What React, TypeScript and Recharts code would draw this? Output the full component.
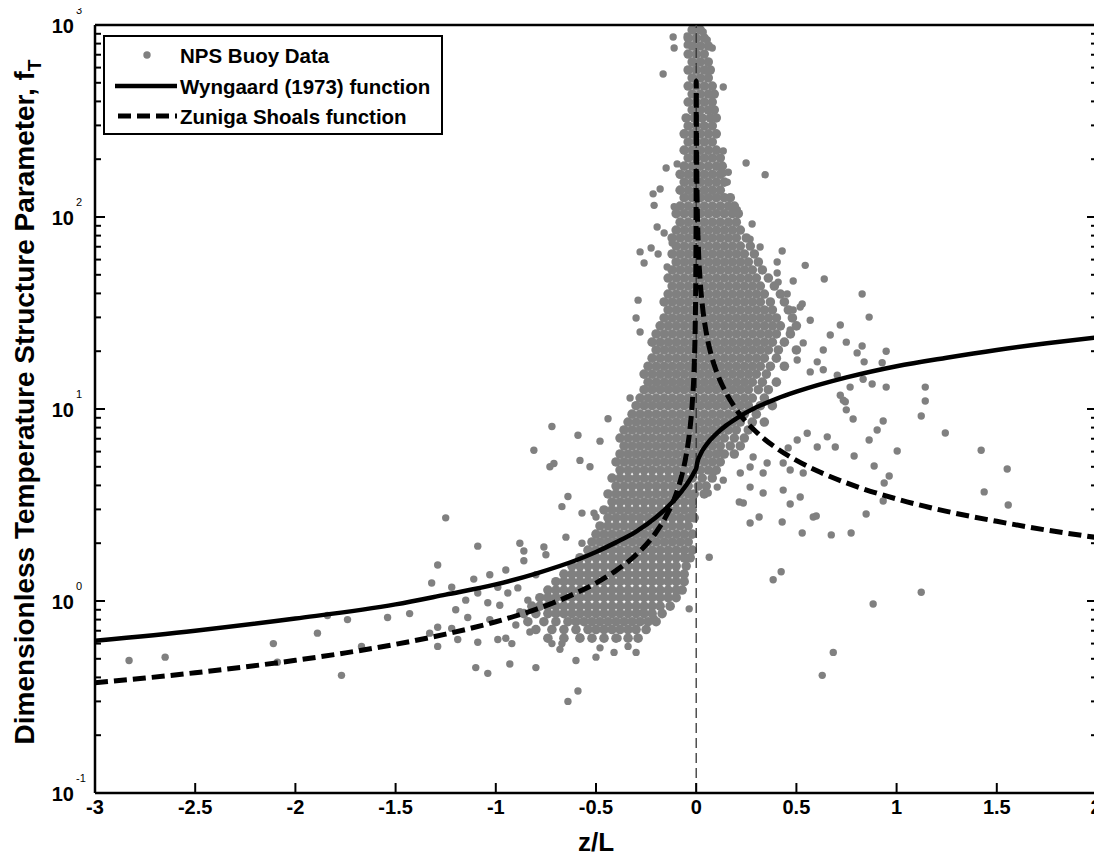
import { ComposedChart, Scatter, Line, XAxis, YAxis, ReferenceLine, Legend } from "recharts";

const WIDTH = 1094;
const HEIGHT = 852;
const SHIFT_UP = 4;
const FONT = '"Liberation Sans", Arial, Helvetica, sans-serif';
const GREY = "#808080";
const DOT_RADIUS = 3.7;
const CORE_DOT_RADIUS = 4.8;

const X_TICKS = [-3, -2.5, -2, -1.5, -1, -0.5, 0, 0.5, 1, 1.5, 2];
const Y_MAJOR = [0.1, 1, 10, 100, 1000];
const Y_EXPONENTS = ["-1", "0", "1", "2", "3"];
const Y_MINOR = [
  0.2, 0.3, 0.4, 0.5, 0.6, 0.7, 0.8, 0.9, 2, 3, 4, 5, 6, 7, 8, 9, 20, 30, 40, 50, 60, 70, 80, 90,
  200, 300, 400, 500, 600, 700, 800, 900,
];
const Y_TICKS = [...Y_MAJOR, ...Y_MINOR].sort((a, b) => a - b);

// Wyngaard (1973) curve
const WYNGAARD_Z = [
  -3, -2.5, -2, -1.5, -1.25, -1, -0.8, -0.6, -0.5, -0.4, -0.3, -0.2, -0.15, -0.1, -0.05, -0.02,
  -0.005, 0, 0.005, 0.02, 0.05, 0.1, 0.15, 0.2, 0.3, 0.4, 0.5, 0.75, 1, 1.25, 1.5, 1.75, 2,
];
const WYNGAARD_F = [
  0.62, 0.7, 0.81, 0.96, 1.08, 1.22, 1.39, 1.63, 1.8, 2.02, 2.3, 2.73, 3.04, 3.44, 4.01, 4.49,
  4.79, 4.9, 5.24, 5.77, 6.5, 7.43, 8.22, 8.92, 10.2, 11.3, 12.3, 14.6, 16.7, 18.5, 20.3, 22.0, 23.6,
];

// Zuniga Shoals curve
const ZUNIGA_Z = [
  -3, -2.75, -2.5, -2.25, -2, -1.75, -1.5, -1.25, -1, -0.8, -0.6, -0.5, -0.4, -0.3, -0.2, -0.15,
  -0.1, -0.07, -0.05, -0.03, -0.02, -0.01, -0.005, -0.002, -0.001, -0.0005, -0.0002, -0.0001,
  -0.00006, 0.0006, 0.001, 0.002, 0.005, 0.01, 0.02, 0.03, 0.05, 0.075, 0.1, 0.15, 0.2, 0.3, 0.4,
  0.5, 0.6, 0.75, 1, 1.25, 1.5, 1.75, 2,
];
const ZUNIGA_F = [
  0.375, 0.397, 0.423, 0.454, 0.491, 0.537, 0.595, 0.672, 0.78, 0.905, 1.1, 1.24, 1.44, 1.74, 2.28,
  2.77, 3.62, 4.59, 5.75, 8.08, 10.6, 16.8, 26.7, 49.1, 78, 124, 228, 362, 509, 478, 340, 214, 116,
  73.3, 46.1, 35.2, 25.1, 19.1, 15.8, 12.1, 9.94, 7.59, 6.26, 5.4, 4.78, 4.12, 3.4, 2.93, 2.6, 2.34,
  2.14,
];

// dense body of the buoy cloud, one row of z/L positions per f_T level
const BUOY_ROWS: [number, number[]][] = [
  [942, [-0.02, 0.02]],
  [855, [-0.04, 0, 0.04]],
  [778, [-0.02, 0.02, 0.06]],
  [706, [-0.04, 0, 0.04]],
  [642, [-0.02, 0.02, 0.06]],
  [583, [-0.04, 0, 0.04, 0.07]],
  [530, [-0.02, 0.02, 0.06]],
  [481, [-0.04, 0, 0.04, 0.08]],
  [437, [-0.02, 0.02, 0.06, 0.09]],
  [397, [-0.04, 0, 0.04, 0.08]],
  [361, [-0.02, 0.02, 0.06, 0.09]],
  [328, [-0.05, -0.01, 0.03, 0.07, 0.1]],
  [298, [-0.04, 0, 0.04, 0.08]],
  [271, [-0.06, -0.02, 0.02, 0.06, 0.1]],
  [246, [-0.04, 0, 0.04, 0.08]],
  [223, [-0.06, -0.02, 0.02, 0.06, 0.1]],
  [203, [-0.04, 0, 0.04, 0.08, 0.12]],
  [184, [-0.06, -0.02, 0.02, 0.06, 0.1, 0.13]],
  [167, [-0.08, -0.04, 0, 0.04, 0.08, 0.12]],
  [152, [-0.06, -0.02, 0.02, 0.06, 0.1, 0.14]],
  [138, [-0.08, -0.04, 0, 0.04, 0.08, 0.12]],
  [126, [-0.06, -0.02, 0.02, 0.06, 0.1, 0.14, 0.17]],
  [114, [-0.08, -0.04, 0, 0.04, 0.08, 0.12, 0.16, 0.19]],
  [104, [-0.1, -0.06, -0.02, 0.02, 0.06, 0.1, 0.14, 0.18, 0.21]],
  [94, [-0.08, -0.04, 0, 0.04, 0.08, 0.12, 0.16, 0.2]],
  [85.5, [-0.1, -0.06, -0.02, 0.02, 0.06, 0.1, 0.14, 0.18, 0.22]],
  [77.8, [-0.12, -0.08, -0.04, 0, 0.04, 0.08, 0.12, 0.16, 0.2, 0.25]],
  [70.6, [-0.1, -0.06, -0.02, 0.02, 0.06, 0.1, 0.14, 0.18, 0.22, 0.27]],
  [64.2, [-0.12, -0.08, -0.04, 0, 0.04, 0.08, 0.12, 0.16, 0.2, 0.24, 0.29]],
  [58.3, [-0.1, -0.06, -0.02, 0.02, 0.06, 0.1, 0.14, 0.18, 0.22, 0.26, 0.31]],
  [53.0, [-0.12, -0.08, -0.04, 0, 0.04, 0.08, 0.12, 0.16, 0.2, 0.24, 0.28, 0.33]],
  [48.1, [-0.14, -0.1, -0.06, -0.02, 0.02, 0.06, 0.1, 0.14, 0.18, 0.22, 0.26, 0.3, 0.36]],
  [43.7, [-0.12, -0.08, -0.04, 0, 0.04, 0.08, 0.12, 0.16, 0.2, 0.24, 0.28, 0.32, 0.39]],
  [39.7, [-0.14, -0.1, -0.06, -0.02, 0.02, 0.06, 0.1, 0.14, 0.18, 0.22, 0.26, 0.3, 0.34, 0.42]],
  [36.1, [-0.16, -0.12, -0.08, -0.04, 0, 0.04, 0.08, 0.12, 0.16, 0.2, 0.24, 0.28, 0.32, 0.37, 0.44]],
  [32.8, [-0.14, -0.1, -0.06, -0.02, 0.02, 0.06, 0.1, 0.14, 0.18, 0.22, 0.26, 0.3, 0.34, 0.38, 0.46]],
  [29.8, [-0.16, -0.12, -0.08, -0.04, 0, 0.04, 0.08, 0.12, 0.16, 0.2, 0.24, 0.28, 0.32, 0.36, 0.4, 0.48]],
  [27.1, [-0.18, -0.14, -0.1, -0.06, -0.02, 0.02, 0.06, 0.1, 0.14, 0.18, 0.22, 0.26, 0.3, 0.34, 0.38, 0.42, 0.5]],
  [24.6, [-0.2, -0.16, -0.12, -0.08, -0.04, 0, 0.04, 0.08, 0.12, 0.16, 0.2, 0.24, 0.28, 0.32, 0.36, 0.4, 0.47]],
  [22.3, [-0.22, -0.18, -0.14, -0.1, -0.06, -0.02, 0.02, 0.06, 0.1, 0.14, 0.18, 0.22, 0.26, 0.3, 0.34, 0.38, 0.44]],
  [20.3, [-0.2, -0.16, -0.12, -0.08, -0.04, 0, 0.04, 0.08, 0.12, 0.16, 0.2, 0.24, 0.28, 0.32, 0.36, 0.41, 0.5]],
  [18.4, [-0.22, -0.18, -0.14, -0.1, -0.06, -0.02, 0.02, 0.06, 0.1, 0.14, 0.18, 0.22, 0.26, 0.3, 0.34, 0.4]],
  [16.7, [-0.24, -0.2, -0.16, -0.12, -0.08, -0.04, 0, 0.04, 0.08, 0.12, 0.16, 0.2, 0.24, 0.28, 0.32, 0.37, 0.44]],
  [15.2, [-0.26, -0.22, -0.18, -0.14, -0.1, -0.06, -0.02, 0.02, 0.06, 0.1, 0.14, 0.18, 0.22, 0.26, 0.3, 0.35]],
  [13.8, [-0.24, -0.2, -0.16, -0.12, -0.08, -0.04, 0, 0.04, 0.08, 0.12, 0.16, 0.2, 0.24, 0.28, 0.33, 0.4]],
  [12.6, [-0.26, -0.22, -0.18, -0.14, -0.1, -0.06, -0.02, 0.02, 0.06, 0.1, 0.14, 0.18, 0.22, 0.26, 0.31, 0.36]],
  [11.4, [-0.28, -0.24, -0.2, -0.16, -0.12, -0.08, -0.04, 0, 0.04, 0.08, 0.12, 0.16, 0.2, 0.24, 0.28, 0.34]],
  [10.4, [-0.3, -0.26, -0.22, -0.18, -0.14, -0.1, -0.06, -0.02, 0.02, 0.06, 0.1, 0.14, 0.18, 0.22, 0.26, 0.32, 0.38]],
  [9.4, [-0.32, -0.28, -0.24, -0.2, -0.16, -0.12, -0.08, -0.04, 0, 0.04, 0.08, 0.12, 0.16, 0.2, 0.24, 0.3]],
  [8.55, [-0.34, -0.3, -0.26, -0.22, -0.18, -0.14, -0.1, -0.06, -0.02, 0.02, 0.06, 0.1, 0.14, 0.18, 0.22, 0.28, 0.34]],
  [7.78, [-0.36, -0.32, -0.28, -0.24, -0.2, -0.16, -0.12, -0.08, -0.04, 0, 0.04, 0.08, 0.12, 0.16, 0.2, 0.26]],
  [7.06, [-0.38, -0.34, -0.3, -0.26, -0.22, -0.18, -0.14, -0.1, -0.06, -0.02, 0.02, 0.06, 0.1, 0.14, 0.19, 0.24]],
  [6.42, [-0.36, -0.32, -0.28, -0.24, -0.2, -0.16, -0.12, -0.08, -0.04, 0, 0.04, 0.08, 0.12, 0.17, 0.22]],
  [5.83, [-0.38, -0.34, -0.3, -0.26, -0.22, -0.18, -0.14, -0.1, -0.06, -0.02, 0.02, 0.06, 0.1, 0.14, 0.19]],
  [5.3, [-0.4, -0.36, -0.32, -0.28, -0.24, -0.2, -0.16, -0.12, -0.08, -0.04, 0, 0.04, 0.08, 0.12]],
  [4.81, [-0.38, -0.34, -0.3, -0.26, -0.22, -0.18, -0.14, -0.1, -0.06, -0.02, 0.02, 0.06, 0.1]],
  [4.37, [-0.42, -0.38, -0.34, -0.3, -0.26, -0.22, -0.18, -0.14, -0.1, -0.06, -0.02, 0.03, 0.08]],
  [3.97, [-0.4, -0.36, -0.32, -0.28, -0.24, -0.2, -0.16, -0.12, -0.08, -0.04, 0.01, 0.05]],
  [3.61, [-0.44, -0.4, -0.36, -0.32, -0.28, -0.24, -0.2, -0.16, -0.12, -0.08, -0.04, -0.01, 0.04]],
  [3.28, [-0.42, -0.38, -0.34, -0.3, -0.26, -0.22, -0.18, -0.14, -0.1, -0.06, -0.02]],
  [2.98, [-0.46, -0.42, -0.38, -0.34, -0.3, -0.26, -0.22, -0.18, -0.14, -0.1, -0.06, -0.02]],
  [2.71, [-0.44, -0.4, -0.36, -0.32, -0.28, -0.24, -0.2, -0.16, -0.12, -0.08, -0.04, -0.01]],
  [2.46, [-0.48, -0.44, -0.4, -0.36, -0.32, -0.28, -0.24, -0.2, -0.16, -0.12, -0.08, -0.04]],
  [2.23, [-0.5, -0.46, -0.42, -0.38, -0.34, -0.3, -0.26, -0.22, -0.18, -0.14, -0.1, -0.06, -0.02]],
  [2.03, [-0.52, -0.48, -0.44, -0.4, -0.36, -0.32, -0.28, -0.24, -0.2, -0.16, -0.12, -0.08, -0.04]],
  [1.84, [-0.54, -0.5, -0.46, -0.42, -0.38, -0.34, -0.3, -0.26, -0.22, -0.18, -0.14, -0.1, -0.06, -0.02]],
  [1.68, [-0.58, -0.54, -0.5, -0.46, -0.42, -0.38, -0.34, -0.3, -0.26, -0.22, -0.18, -0.14, -0.1, -0.06, -0.03]],
  [1.52, [-0.62, -0.58, -0.54, -0.5, -0.46, -0.42, -0.38, -0.34, -0.3, -0.26, -0.22, -0.18, -0.14, -0.1, -0.05]],
  [1.38, [-0.66, -0.62, -0.58, -0.54, -0.5, -0.46, -0.42, -0.38, -0.34, -0.3, -0.26, -0.22, -0.18, -0.14, -0.1, -0.06]],
  [1.26, [-0.7, -0.66, -0.62, -0.58, -0.54, -0.5, -0.46, -0.42, -0.38, -0.34, -0.3, -0.26, -0.22, -0.18, -0.14, -0.1, -0.06]],
  [1.14, [-0.74, -0.7, -0.66, -0.62, -0.58, -0.54, -0.5, -0.46, -0.42, -0.38, -0.34, -0.3, -0.26, -0.22, -0.18, -0.14, -0.1, -0.07]],
  [1.04, [-0.78, -0.74, -0.7, -0.66, -0.62, -0.58, -0.54, -0.5, -0.46, -0.42, -0.38, -0.34, -0.3, -0.26, -0.22, -0.18, -0.14, -0.1]],
  [0.94, [-0.82, -0.78, -0.74, -0.7, -0.66, -0.62, -0.58, -0.54, -0.5, -0.46, -0.42, -0.38, -0.34, -0.3, -0.26, -0.22, -0.18, -0.13]],
  [0.86, [-0.86, -0.8, -0.74, -0.7, -0.66, -0.62, -0.58, -0.54, -0.5, -0.46, -0.42, -0.38, -0.34, -0.3, -0.26, -0.22, -0.17]],
  [0.78, [-0.84, -0.76, -0.7, -0.64, -0.6, -0.56, -0.52, -0.48, -0.44, -0.4, -0.36, -0.32, -0.28, -0.24, -0.2]],
  [0.71, [-0.8, -0.72, -0.66, -0.6, -0.54, -0.5, -0.46, -0.42, -0.38, -0.34, -0.3, -0.25]],
  [0.64, [-0.74, -0.66, -0.58, -0.52, -0.46, -0.4, -0.34, -0.29]],
];

// scattered buoy points outside the dense body, [z/L, f_T]
const BUOY_OUTLIERS: [number, number][] = [
  [-2.83, 0.49], [-2.65, 0.51], [-2.11, 0.6], [-2.09, 0.48], [-1.89, 0.68], [-1.84, 0.84],
  [-1.74, 0.8], [-1.77, 0.41], [-1.67, 0.58], [-1.54, 0.82], [-1.43, 0.86], [-1.32, 1.24],
  [-1.29, 1.54], [-1.29, 0.73], [-1.33, 0.68], [-1.29, 0.58], [-1.25, 2.71], [-1.09, 1.93],
  [-1.22, 1.18], [-1.11, 1.3], [-1.22, 0.72], [-1.19, 0.63], [-1.14, 0.82], [-1.09, 0.61],
  [-1.1, 0.45], [-1.04, 0.42], [-0.93, 0.47], [-0.8, 0.45], [-0.99, 0.63], [-0.95, 0.64],
  [-0.92, 0.6], [-0.72, 0.6], [-0.67, 0.6], [-0.58, 0.65], [-0.5, 0.51], [-0.39, 0.64],
  [-0.41, 0.54], [-0.34, 0.58], [-0.3, 0.54], [-0.21, 0.81], [-0.27, 0.87], [-0.64, 0.3],
  [-0.59, 0.34],
  [-1.09, 1.1], [-1.04, 0.98], [-0.99, 1.18], [-0.94, 1.1], [-0.89, 1.17], [-0.84, 1.01],
  [-1.03, 0.8], [-0.9, 0.75], [-0.83, 0.69], [-0.98, 0.95], [-1.15, 1.01], [-1.2, 0.9],
  [-0.88, 0.88], [-0.95, 1.45], [-1.03, 1.37], [-0.8, 1.37], [-0.68, 0.56], [-0.6, 0.49],
  [-0.48, 0.57],
  [-0.88, 2.0], [-0.86, 1.82], [-0.86, 1.62], [-0.76, 1.91], [-0.75, 1.74], [-0.81, 6.1],
  [-0.72, 8.1], [-0.73, 5.0], [-0.71, 5.2], [-0.59, 7.3], [-0.48, 6.8], [-0.44, 8.9],
  [-0.58, 5.4], [-0.53, 5.0], [-0.64, 3.5], [-0.67, 3.1], [-0.57, 2.87], [-0.51, 2.87],
  [-0.5, 2.74], [-0.57, 2.0], [-0.65, 2.15], [-0.33, 11.4], [-0.28, 25.2], [-0.29, 36.9],
  [-0.3, 29.8],
  [-0.15, 180], [-0.095, 189], [-0.215, 132], [-0.18, 140], [-0.21, 115], [-0.11, 113],
  [-0.195, 88.7], [-0.16, 82.5], [-0.12, 73.2], [-0.28, 65.8], [-0.225, 69], [-0.26, 57.6],
  [-0.19, 64.2], [-0.145, 54.9],
  [-0.115, 866], [-0.045, 877], [-0.11, 759], [-0.045, 787], [-0.165, 556], [0.135, 475],
  [0.08, 759], [0.055, 835], [0.035, 920],
  [0.135, 221], [0.155, 152], [0.135, 169], [0.16, 171], [0.205, 109], [0.279, 92],
  [0.319, 69.8], [0.269, 76.7], [0.249, 191], [0.344, 166],
  [0.429, 66.5], [0.404, 58.3], [0.404, 51.1], [0.409, 45.8], [0.454, 39.7], [0.484, 46.4],
  [0.484, 32.8], [0.529, 35.2], [0.639, 47.5], [0.544, 56], [0.519, 34], [0.569, 29],
  [0.469, 25.8], [0.534, 22.1], [0.504, 18], [0.569, 15.6],
  [0.719, 27.4], [0.634, 20.3], [0.669, 24.3], [0.604, 17.6], [0.634, 16.0], [0.704, 15.0],
  [0.734, 11.1], [0.654, 7.16], [0.694, 6.34], [0.604, 6.34], [0.554, 7.47], [0.504, 6.9],
  [0.459, 6.27], [0.434, 5.23], [0.354, 5.23], [0.284, 5.62], [0.269, 4.99], [0.469, 4.81],
  [0.534, 4.64], [0.334, 4.64], [0.22, 4.64], [0.12, 5.9], [0.085, 4.64], [0.135, 4.26],
  [0.269, 3.92], [0.334, 3.65], [0.434, 3.78], [0.519, 3.48], [0.235, 3.24], [0.06, 3.65],
  [0.105, 3.92], [0.269, 2.55], [0.584, 2.74], [0.384, 1.29],
  [0.828, 39.7], [0.863, 30.1], [0.749, 22.3], [0.828, 21.3], [0.803, 19.6], [0.838, 17.6],
  [0.948, 20.0], [0.928, 17.4], [0.833, 14.3], [0.878, 13.5], [0.948, 13.0], [0.768, 13.0],
  [0.719, 11.8], [0.744, 10.9], [0.749, 9.9], [0.783, 8.87], [0.933, 8.66], [0.903, 7.78],
  [0.863, 6.9], [1.143, 13.0], [1.143, 11.0], [1.123, 9.2], [1.243, 7.5], [1.003, 6.04],
  [0.788, 5.69], [0.888, 5.05], [0.963, 4.48], [0.938, 4.12], [0.848, 2.84], [1.422, 6.1],
  [1.437, 3.7], [1.552, 4.87], [1.557, 3.16],
  [0.065, 1.69], [0.215, 3.28], [0.314, 2.74], [0.429, 2.58], [0.469, 3.2], [0.529, 2.26],
  [0.599, 2.77], [0.674, 2.21], [0.773, 2.26], [0.933, 3.32], [0.424, 1.42], [0.883, 0.965],
  [1.123, 1.11], [0.684, 0.54], [0.629, 0.41], [-0.035, 0.91],
];

const buoyData = [
  ...BUOY_ROWS.flatMap(([f, zs]) => zs.map((z) => ({ x: z, y: f, core: true }))),
  ...BUOY_OUTLIERS.map(([x, y]) => ({ x, y, core: false })),
];
const wyngaardData = WYNGAARD_Z.map((x, i) => ({ x, y: WYNGAARD_F[i] }));
const zunigaData = ZUNIGA_Z.map((x, i) => ({ x, y: ZUNIGA_F[i] }));

const textStyle = { fontFamily: FONT, fontWeight: 700, fill: "#000" };

const BottomTick = ({ x, y, payload }: any) => (
  <g>
    <line x1={x} x2={x} y1={y} y2={y - 10} stroke="#000" strokeWidth={2} />
    <text x={Math.min(x, WIDTH - 6)} y={y + 21} textAnchor="middle" fontSize={20} {...textStyle}>
      {payload.value}
    </text>
  </g>
);

const TopTick = ({ x, y }: any) => (
  <line x1={x} x2={x} y1={y} y2={y + 10} stroke="#000" strokeWidth={2} />
);

const LeftTick = ({ x, y, payload }: any) => {
  const idx = Y_MAJOR.indexOf(payload.value);
  const major = idx >= 0;
  return (
    <g>
      <line x1={x} x2={x + (major ? 10 : 6)} y1={y} y2={y} stroke="#000" strokeWidth={2} />
      {major && (
        <>
          <text x={x - 21} y={y + 8} textAnchor="end" fontSize={20} {...textStyle}>
            10
          </text>
          <text x={x - 19} y={y - 11} fontSize={11} fontFamily={FONT} fill="#000">
            {Y_EXPONENTS[idx]}
          </text>
        </>
      )}
    </g>
  );
};

const RightTick = ({ x, y, payload }: any) => {
  const major = Y_MAJOR.indexOf(payload.value) >= 0;
  return <line x1={x} x2={x - (major ? 10 : 6)} y1={y} y2={y} stroke="#000" strokeWidth={2} />;
};

const renderYTitle = () => (
  <text
    transform={`translate(26, ${394 + SHIFT_UP}) rotate(-90)`}
    textAnchor="middle"
    fontSize={28}
    {...textStyle}
  >
    Dimensionless Temperature Structure Parameter, f
    <tspan fontSize={19} dy={7}>
      T
    </tspan>
  </text>
);

const renderXTitle = () => (
  <text x={588} y={843 + SHIFT_UP} textAnchor="middle" fontSize={26} {...textStyle}>
    z/L
  </text>
);

const LegendBox = () => (
  <div style={{ width: 340, height: 100, boxSizing: "border-box", border: "2px solid #000", background: "#fff" }}>
    <svg width={336} height={96} style={{ display: "block" }}>
      <circle cx={42} cy={18} r={DOT_RADIUS} fill={GREY} />
      <line x1={10} x2={72} y1={49} y2={49} stroke="#000" strokeWidth={4.5} />
      <line x1={13} x2={72} y1={79} y2={79} stroke="#000" strokeWidth={5} strokeDasharray="13 6" />
      <text x={75} y={25.5} fontSize={20.5} {...textStyle}>
        NPS Buoy Data
      </text>
      <text x={75} y={56.5} fontSize={20.5} {...textStyle}>
        Wyngaard (1973) function
      </text>
      <text x={75} y={86.5} fontSize={20.5} {...textStyle}>
        Zuniga Shoals function
      </text>
    </svg>
  </div>
);

const axisLine = { stroke: "#000", strokeWidth: 2.5 };

export default function App() {
  return (
    <div style={{ marginTop: -SHIFT_UP }}>
      <ComposedChart width={WIDTH} height={HEIGHT} margin={{ top: 12 + SHIFT_UP, right: 0, bottom: 0, left: 0 }}>
        <XAxis
          xAxisId="b"
          dataKey="x"
          type="number"
          domain={[-3, 2]}
          ticks={X_TICKS}
          interval={0}
          allowDataOverflow
          height={63}
          tickSize={0}
          tickMargin={0}
          tickLine={false}
          axisLine={axisLine}
          tick={<BottomTick />}
          label={renderXTitle}
        />
        <XAxis
          xAxisId="t"
          orientation="top"
          type="number"
          domain={[-3, 2]}
          ticks={X_TICKS}
          interval={0}
          allowDataOverflow
          height={5}
          tickSize={0}
          tickMargin={0}
          tickLine={false}
          axisLine={axisLine}
          tick={<TopTick />}
        />
        <YAxis
          yAxisId="l"
          type="number"
          scale="log"
          domain={[0.1, 1000]}
          ticks={Y_TICKS}
          interval={0}
          allowDataOverflow
          width={87}
          tickSize={0}
          tickMargin={0}
          tickLine={false}
          axisLine={axisLine}
          tick={<LeftTick />}
          label={renderYTitle}
        />
        <YAxis
          yAxisId="r"
          orientation="right"
          type="number"
          scale="log"
          domain={[0.1, 1000]}
          ticks={Y_TICKS}
          interval={0}
          allowDataOverflow
          width={5}
          tickSize={0}
          tickMargin={0}
          tickLine={false}
          axisLine={axisLine}
          tick={<RightTick />}
        />
        <Legend
          layout="horizontal"
          verticalAlign="middle"
          align="center"
          content={() => <LegendBox />}
          wrapperStyle={{ left: 95, top: 27 + SHIFT_UP, width: 340, height: 100 }}
        />
        <Scatter
          xAxisId="b"
          yAxisId="l"
          data={buoyData}
          dataKey="y"
          isAnimationActive={false}
          zIndex={100}
          shape={(p: any) => (
            <circle cx={p.cx} cy={p.cy} r={p.payload.core ? CORE_DOT_RADIUS : DOT_RADIUS} fill={GREY} />
          )}
        />
        <ReferenceLine
          xAxisId="b"
          yAxisId="l"
          x={0}
          stroke="#333"
          strokeWidth={1.3}
          strokeDasharray="10 5"
          zIndex={700}
        />
        <Line
          xAxisId="b"
          yAxisId="l"
          data={wyngaardData}
          dataKey="y"
          type="monotone"
          stroke="#000"
          strokeWidth={4.5}
          dot={false}
          isAnimationActive={false}
          zIndex={800}
        />
        <Line
          xAxisId="b"
          yAxisId="l"
          data={zunigaData}
          dataKey="y"
          type="monotone"
          stroke="#000"
          strokeWidth={5}
          strokeDasharray="13 6"
          dot={false}
          isAnimationActive={false}
          zIndex={800}
        />
      </ComposedChart>
    </div>
  );
}
